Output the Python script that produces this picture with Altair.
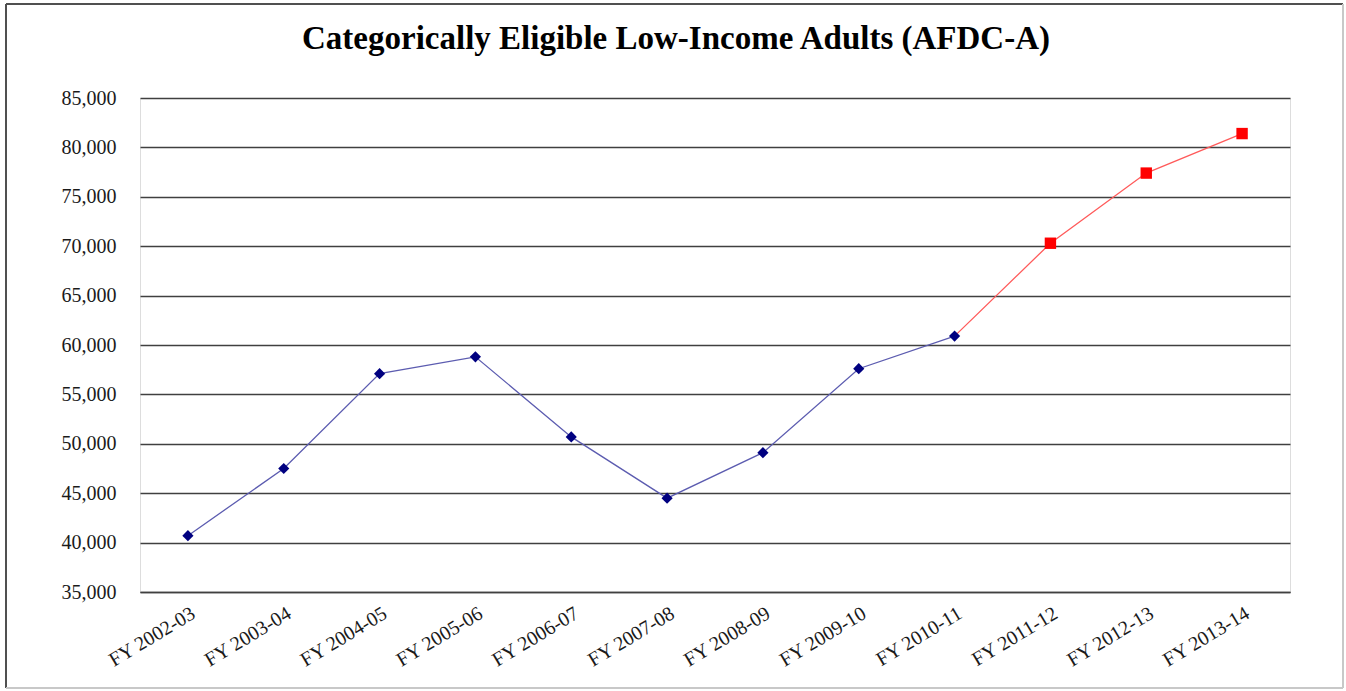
import altair as alt
import pandas as pd

# Fiscal years and caseload counts
years = ["FY 2002-03", "FY 2003-04", "FY 2004-05", "FY 2005-06", "FY 2006-07",
         "FY 2007-08", "FY 2008-09", "FY 2009-10", "FY 2010-11", "FY 2011-12",
         "FY 2012-13", "FY 2013-14"]
actual = [40700, 47500, 57100, 58800, 50700, 44500, 49100, 57600, 60900]
projected = [70300, 77400, 81400]

title_text = "Categorically Eligible Low-Income Adults (AFDC-A)"
y_ticks = list(range(35000, 85001, 5000))

actual_df = pd.DataFrame({"year": years[:len(actual)], "value": actual})
proj_df = pd.DataFrame({"year": years[len(actual):], "value": projected})
# projected line starts from the last actual value
proj_line_df = pd.DataFrame({
    "year": years[len(actual) - 1:],
    "value": [actual[-1]] + projected,
})

FONT = "Liberation Serif"

x_enc = alt.X(
    "year:N",
    sort=years,
    scale=alt.Scale(domain=years),
    axis=alt.Axis(
        title=None,
        labelAngle=-31,
        labelAlign="right",
        labelBaseline="top",
        labelPadding=11,
        ticks=False,
        grid=False,
        domainColor="#404040",
        domainWidth=1.5,
        labelFont=FONT,
        labelFontSize=20,
        labelColor="#1a1a1a",
    ),
)
y_enc = alt.Y(
    "value:Q",
    scale=alt.Scale(domain=[35000, 85000], nice=False, zero=False),
    axis=alt.Axis(
        title=None,
        values=y_ticks,
        format=",.0f",
        ticks=False,
        labelPadding=24,
        domain=False,
        grid=True,
        gridColor="#404040",
        gridWidth=1.5,
        labelFont=FONT,
        labelFontSize=20,
        labelColor="#1a1a1a",
    ),
)

blue_line = alt.Chart(actual_df).mark_line(color="#5c5cb0", strokeWidth=1.3).encode(x=x_enc, y=y_enc)
blue_pts = alt.Chart(actual_df).mark_point(
    shape="diamond", filled=True, color="#000080", size=125, opacity=1
).encode(x=x_enc, y=y_enc)

red_line = alt.Chart(proj_line_df).mark_line(color="#ff5a5a", strokeWidth=1.3).encode(x=x_enc, y=y_enc)
red_pts = alt.Chart(proj_df).mark_point(
    shape="square", filled=True, color="#ff0000", size=130, opacity=1
).encode(x=x_enc, y=y_enc)

one = pd.DataFrame({"k": [0]})

# chart heading, centred on the full figure
heading = alt.Chart(pd.DataFrame({"t": [title_text]})).mark_text(
    font=FONT, fontSize=33, fontWeight="bold", color="#000000",
    align="center", baseline="middle",
).encode(x=alt.value(536), y=alt.value(-59), text="t:N")

# outer frame around the whole figure
frame_top = alt.Chart(one).mark_rule(color="#505050", strokeWidth=2).encode(
    x=alt.value(-134), x2=alt.value(1203), y=alt.value(-94))
frame_left = alt.Chart(one).mark_rule(color="#505050", strokeWidth=2).encode(
    x=alt.value(-134), y=alt.value(-94), y2=alt.value(590))
frame_right = alt.Chart(one).mark_rule(color="#c8c8c8", strokeWidth=2).encode(
    x=alt.value(1203), y=alt.value(-94), y2=alt.value(590))
frame_bottom = alt.Chart(one).mark_rule(color="#c8c8c8", strokeWidth=2).encode(
    x=alt.value(-134), x2=alt.value(1203), y=alt.value(590))

chart = alt.layer(
    frame_top, frame_left, frame_right, frame_bottom, heading,
    blue_line, red_line, blue_pts, red_pts,
).properties(
    width=1150,
    height=494,
    autosize=alt.AutoSizeParams(type="none"),
    padding={"left": 140, "top": 98, "right": 56, "bottom": 99},
).configure_view(
    stroke="#9a9a9a", strokeWidth=1.5
).configure(background="white")

chart.save("out.html", embed_options={"renderer": "svg", "actions": False})
